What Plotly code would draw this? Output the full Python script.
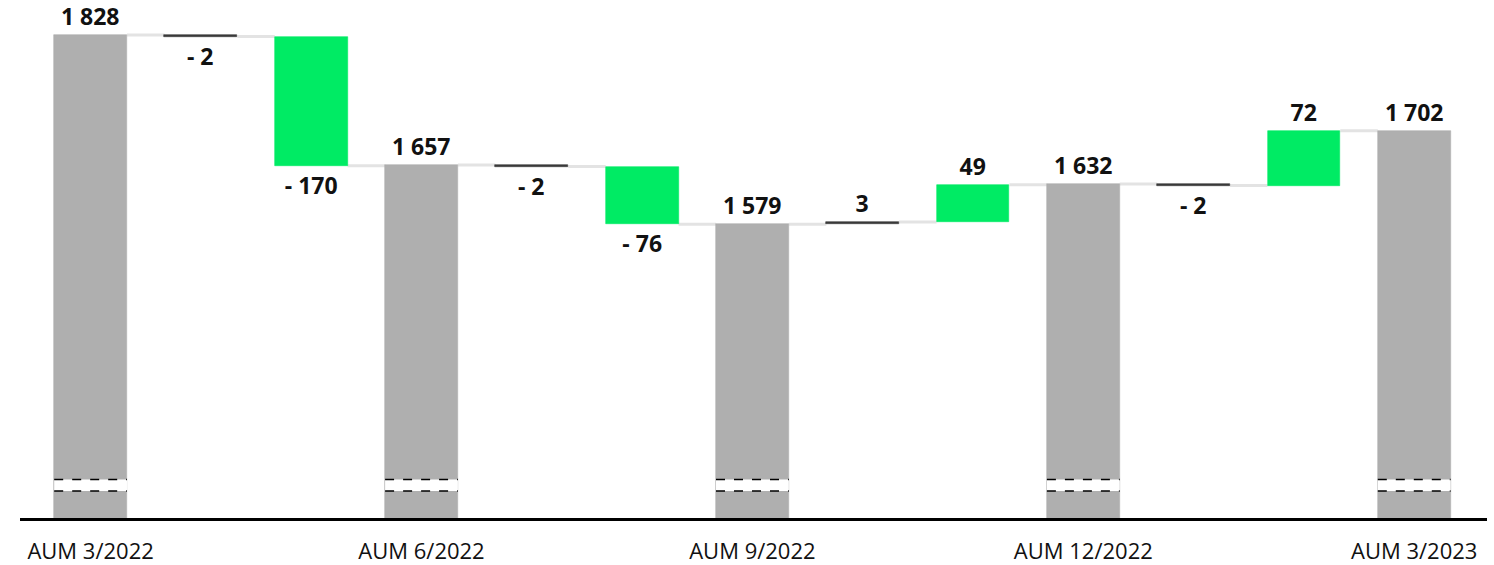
import plotly.graph_objects as go

# ---- data ----
categories = ["AUM 3/2022", "chg1", "chg2", "AUM 6/2022", "chg3", "chg4",
              "AUM 9/2022", "chg5", "chg6", "AUM 12/2022", "chg7", "chg8", "AUM 3/2023"]
measures = ["total", "rel", "rel", "total", "rel", "rel",
            "total", "rel", "rel", "total", "rel", "rel", "total"]
values = [1828, -2, -170, 1657, -2, -76, 1579, 3, 49, 1632, -2, 72, 1702]
tick_labels = ["AUM 3/2022", "AUM 6/2022", "AUM 9/2022", "AUM 12/2022", "AUM 3/2023"]

GRAY = "#afafaf"
GREEN = "#00eb64"
DARK = "#3a3a3a"
CONN = "#e3e3e3"
BAR_W = 0.66
Y_MIN, Y_MAX = 1192.5, 1861
BREAK_LO, BREAK_HI = 1228, 1243


def fmt(v):
    s = f"{abs(v):,}".replace(",", " ")
    return f"- {s}" if v < 0 else s


xs = list(range(len(categories)))
bases, ys, colors, texts, ends = [], [], [], [], []
running = 0
for m, v in zip(measures, values):
    if m == "total":
        bases.append(0)
        ys.append(v)
        colors.append(GRAY)
        running = v
    else:
        bases.append(running)
        ys.append(v)
        colors.append(DARK if abs(v) < 10 else GREEN)
        running += v
    ends.append(running)
    texts.append(fmt(v))

fig = go.Figure()

# connectors
for i in range(len(xs) - 1):
    fig.add_shape(type="line", xref="x", yref="y",
                  x0=xs[i] + BAR_W / 2, x1=xs[i + 1] - BAR_W / 2,
                  y0=ends[i], y1=ends[i],
                  line=dict(color=CONN, width=3), layer="below")

fig.add_trace(go.Bar(
    x=xs, y=ys, base=bases, width=BAR_W,
    marker=dict(color=colors, line=dict(color=colors, width=0.6)),
    text=texts, textposition="outside", constraintext="none",
    textfont=dict(family="Open Sans", size=23, color="#111111", weight="bold"),
    cliponaxis=False, hoverinfo="skip",
))

# axis break marks on total bars
for i, m in enumerate(measures):
    if m != "total":
        continue
    fig.add_shape(type="rect", xref="x", yref="y",
                  x0=xs[i] - BAR_W / 2, x1=xs[i] + BAR_W / 2,
                  y0=BREAK_LO, y1=BREAK_HI,
                  fillcolor="white", line=dict(width=0), layer="above")
    for yy in (BREAK_LO, BREAK_HI):
        fig.add_shape(type="line", xref="x", yref="y",
                      x0=xs[i] - BAR_W / 2, x1=xs[i] + BAR_W / 2,
                      y0=yy, y1=yy,
                      line=dict(color="black", width=1.5, dash="dash"), layer="above")

total_idx = [i for i, m in enumerate(measures) if m == "total"]

fig.update_layout(
    width=1494, height=565,
    margin=dict(l=20, r=7, t=10, b=47, autoexpand=False),
    plot_bgcolor="white", paper_bgcolor="white",
    showlegend=False,
    bargap=0,
    xaxis=dict(range=[-0.64, 12.66], tickmode="array", tickvals=total_idx,
               ticktext=tick_labels, showgrid=False, zeroline=False,
               showline=True, linecolor="black", linewidth=2.5,
               ticks="", ticklabelstandoff=12, automargin=False,
               tickfont=dict(family="Open Sans", size=22, color="#111111")),
    yaxis=dict(range=[Y_MIN, Y_MAX], visible=False, showgrid=False,
               zeroline=False, automargin=False),
)

# remove the default page margin so the figure fills the window exactly
fig.write_html("out.html",
               config={"displayModeBar": False},
               post_script="document.body.style.margin='0px';"
                           "document.body.style.overflow='hidden';")
